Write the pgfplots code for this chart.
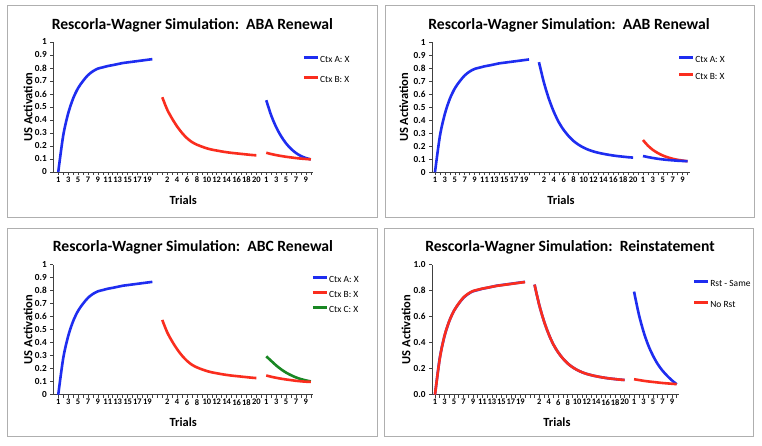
\documentclass[border=0pt]{standalone}
\usepackage{pgfplots}
\pgfplotsset{compat=1.18}
\usepackage{fontspec}
\setmainfont{Carlito}
\definecolor{xblue}{RGB}{30,45,240}
\definecolor{xred}{RGB}{250,45,30}
\definecolor{xgreen}{RGB}{25,135,35}
\definecolor{frame}{RGB}{175,175,175}
\pgfplotsset{
 rw/.style={
  scale only axis, anchor=south west, height=130bp,
  ymin=0, ymax=1, clip=false,
  axis x line*=bottom, axis y line*=left,
  axis line style={draw=black!75, line width=0.6bp},
  tick align=outside,
  xtick={1,3,...,51},
  xticklabels={1,3,5,7,9,11,13,15,17,19,,2,4,6,8,10,12,14,16,18,20,1,3,5,7,9},
  minor xtick={2,4,...,52},
  minor tick length=3bp, major tick length=3bp,
  tick style={draw=black!75, line width=0.5bp},
  ytick={0,0.1,0.2,0.3,0.4,0.5,0.6,0.7,0.8,0.9,1},
  /pgf/number format/assume math mode=true,
  xticklabel style={font=\bfseries\fontsize{8.5}{9}\selectfont, inner sep=1.5bp},
  yticklabel style={font=\bfseries\fontsize{9.3}{10}\selectfont},
  label style={font=\bfseries\fontsize{12.5}{14}\selectfont},
  every axis title/.style={font=\bfseries\fontsize{15.7}{18}\selectfont, anchor=center},
  legend style={draw=none, fill=none, inner sep=0pt, outer sep=0pt, anchor=west,
    font=\fontsize{9.5}{10}\selectfont, cells={anchor=west},
    nodes={inner sep=1bp, text height=7bp, text depth=2bp}, column sep=0bp},
  legend image code/.code={\draw[#1, line width=2.4bp] (0bp,2.5bp) -- (14bp,2.5bp);},
  every axis plot/.append style={line width=2.6bp, smooth, mark=none},
 }
}
\begin{document}
\begin{tikzpicture}[x=1bp,y=1bp]
\path[use as bounding box, fill=white] (0,0) rectangle (762,446);
\draw[frame, line width=0.8bp] (7,441) rectangle (377,229);
\draw[frame, line width=0.8bp] (385,441) rectangle (754,229);
\draw[frame, line width=0.8bp] (7,218) rectangle (377,10);
\draw[frame, line width=0.8bp] (384,218) rectangle (753,10);

% Panel 1: ABA
\begin{axis}[rw, at={(53.3bp,274bp)}, width=260bp, xmin=0, xmax=52.5,
  title={Rescorla-Wagner Simulation:\ \ ABA Renewal},
  title style={at={(axis description cs:0.535,1.13)}},
  xlabel={Trials}, xlabel style={at={(axis description cs:0.5,-0.215)}, anchor=center},
  ylabel={US Activation}, ylabel style={at={(axis description cs:-0.097,0.5)}, anchor=center},
  legend style={at={(axis description cs:0.959,0.785)}, row sep=9bp}]
\addplot[xblue] coordinates {(1,0)(2,0.28)(3,0.45)(4,0.565)(5,0.645)(6,0.70)(7,0.745)(8,0.775)(9,0.795)(10,0.805)(11,0.815)(12,0.822)(13,0.83)(14,0.838)(15,0.843)(16,0.848)(17,0.853)(18,0.858)(19,0.863)(20,0.868)};
\addlegendentry{Ctx A: X}
\addplot[xred] coordinates {(22,0.575)(23,0.48)(24,0.41)(25,0.35)(26,0.30)(27,0.26)(28,0.23)(29,0.21)(30,0.195)(31,0.182)(32,0.172)(33,0.165)(34,0.158)(35,0.152)(36,0.147)(37,0.143)(38,0.139)(39,0.135)(40,0.131)(41,0.128)};
\addlegendentry{Ctx B: X}
\addplot[xblue, forget plot] coordinates {(43,0.552)(44,0.435)(45,0.345)(46,0.275)(47,0.22)(48,0.178)(49,0.146)(50,0.123)(51,0.107)(52,0.097)};
\addplot[xred, forget plot] coordinates {(43,0.148)(44,0.138)(45,0.13)(46,0.123)(47,0.117)(48,0.112)(49,0.107)(50,0.103)(51,0.10)(52,0.097)};
\end{axis}

% Panel 2: AAB
\begin{axis}[rw, at={(432bp,273.7bp)}, width=258bp, xmin=0.4, xmax=52.5,
  title={Rescorla-Wagner Simulation:\ \ AAB Renewal},
  title style={at={(axis description cs:0.531,1.133)}},
  xlabel={Trials}, xlabel style={at={(axis description cs:0.5,-0.215)}, anchor=center},
  ylabel={US Activation}, ylabel style={at={(axis description cs:-0.109,0.5)}, anchor=center},
  legend style={at={(axis description cs:0.953,0.798)}, row sep=6bp}]
\addplot[xblue] coordinates {(1,0)(2,0.28)(3,0.45)(4,0.565)(5,0.645)(6,0.70)(7,0.745)(8,0.775)(9,0.795)(10,0.805)(11,0.815)(12,0.822)(13,0.83)(14,0.838)(15,0.843)(16,0.848)(17,0.853)(18,0.858)(19,0.863)(20,0.868)};
\addlegendentry{Ctx A: X}
\addplot[xred] coordinates {(43,0.248)(44,0.205)(45,0.172)(46,0.148)(47,0.129)(48,0.115)(49,0.104)(50,0.096)(51,0.09)(52,0.085)};
\addlegendentry{Ctx B: X}
\addplot[xblue, forget plot] coordinates {(22,0.847)(23,0.69)(24,0.565)(25,0.465)(26,0.385)(27,0.325)(28,0.278)(29,0.24)(30,0.212)(31,0.19)(32,0.173)(33,0.16)(34,0.15)(35,0.142)(36,0.135)(37,0.129)(38,0.124)(39,0.12)(40,0.116)(41,0.113)};
\addplot[xblue, forget plot] coordinates {(43,0.125)(44,0.117)(45,0.11)(46,0.104)(47,0.099)(48,0.095)(49,0.092)(50,0.089)(51,0.087)(52,0.085)};
\end{axis}

% Panel 3: ABC
\begin{axis}[rw, at={(53.3bp,51.3bp)}, width=260bp, xmin=0, xmax=52.5,
  title={Rescorla-Wagner Simulation:\ \ ABC Renewal},
  title style={at={(axis description cs:0.537,1.136)}},
  xlabel={Trials}, xlabel style={at={(axis description cs:0.5,-0.215)}, anchor=center},
  ylabel={US Activation}, ylabel style={at={(axis description cs:-0.097,0.5)}, anchor=center},
  legend style={at={(axis description cs:0.994,0.767)}, row sep=4bp}]
\addplot[xblue] coordinates {(1,0)(2,0.28)(3,0.45)(4,0.565)(5,0.645)(6,0.70)(7,0.745)(8,0.775)(9,0.795)(10,0.805)(11,0.815)(12,0.822)(13,0.83)(14,0.838)(15,0.843)(16,0.848)(17,0.853)(18,0.858)(19,0.863)(20,0.868)};
\addlegendentry{Ctx A: X}
\addplot[xred] coordinates {(22,0.575)(23,0.48)(24,0.41)(25,0.35)(26,0.30)(27,0.26)(28,0.23)(29,0.21)(30,0.195)(31,0.182)(32,0.172)(33,0.165)(34,0.158)(35,0.152)(36,0.147)(37,0.143)(38,0.139)(39,0.135)(40,0.131)(41,0.128)};
\addlegendentry{Ctx B: X}
\addplot[xgreen] coordinates {(43,0.295)(44,0.26)(45,0.225)(46,0.195)(47,0.17)(48,0.15)(49,0.133)(50,0.12)(51,0.11)(52,0.102)};
\addlegendentry{Ctx C: X}
\addplot[xred, forget plot] coordinates {(43,0.148)(44,0.138)(45,0.13)(46,0.123)(47,0.117)(48,0.112)(49,0.107)(50,0.103)(51,0.10)(52,0.099)};
\end{axis}

% Panel 4: Reinstatement
\begin{axis}[rw, at={(432bp,51.3bp)}, width=247.3bp, xmin=0.37, xmax=52.55,
  ytick={0,0.2,0.4,0.6,0.8,1},
  yticklabel style={/pgf/number format/.cd, fixed, fixed zerofill, precision=1},
  title={Rescorla-Wagner Simulation:\ \ Reinstatement},
  title style={at={(axis description cs:0.558,1.136)}},
  xlabel={Trials}, xlabel style={at={(axis description cs:0.505,-0.215)}, anchor=center},
  ylabel={US Activation}, ylabel style={at={(axis description cs:-0.105,0.5)}, anchor=center},
  legend style={at={(axis description cs:1.055,0.771)}, row sep=10bp}]
\addplot[xblue] coordinates {(1,0)(2,0.28)(3,0.45)(4,0.565)(5,0.645)(6,0.70)(7,0.745)(8,0.775)(9,0.795)(10,0.805)(11,0.815)(12,0.822)(13,0.83)(14,0.838)(15,0.843)(16,0.848)(17,0.853)(18,0.858)(19,0.863)(20,0.868)};
\addlegendentry{Rst - Same}
\addplot[xblue, forget plot] coordinates {(22,0.847)(23,0.69)(24,0.565)(25,0.465)(26,0.385)(27,0.325)(28,0.278)(29,0.24)(30,0.212)(31,0.19)(32,0.173)(33,0.16)(34,0.15)(35,0.142)(36,0.135)(37,0.129)(38,0.124)(39,0.12)(40,0.116)(41,0.113)};
\addplot[xblue, forget plot] coordinates {(43,0.793)(44,0.62)(45,0.485)(46,0.38)(47,0.30)(48,0.235)(49,0.185)(50,0.145)(51,0.11)(52,0.08)};
\addplot[xred] coordinates {(1,0)(2,0.275)(3,0.452)(4,0.565)(5,0.645)(6,0.702)(7,0.748)(8,0.777)(9,0.797)(10,0.807)(11,0.816)(12,0.823)(13,0.83)(14,0.837)(15,0.842)(16,0.847)(17,0.852)(18,0.857)(19,0.862)(20,0.866)};
\addlegendentry{No Rst}
\addplot[xred, forget plot] coordinates {(22,0.847)(23,0.69)(24,0.565)(25,0.465)(26,0.385)(27,0.325)(28,0.278)(29,0.24)(30,0.212)(31,0.19)(32,0.173)(33,0.16)(34,0.15)(35,0.142)(36,0.135)(37,0.129)(38,0.124)(39,0.12)(40,0.116)(41,0.113)};
\addplot[xred, forget plot] coordinates {(43,0.119)(44,0.113)(45,0.107)(46,0.102)(47,0.098)(48,0.094)(49,0.09)(50,0.087)(51,0.084)(52,0.081)};
\end{axis}
\end{tikzpicture}
\end{document}
